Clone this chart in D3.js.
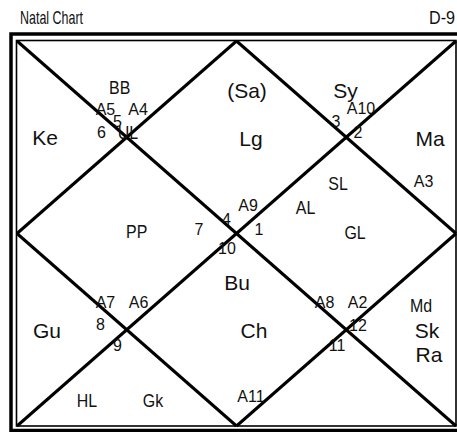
<!DOCTYPE html>
<html>
<head>
<meta charset="utf-8">
<script src="https://cdn.jsdelivr.net/npm/d3@7"></script>
<style>
  html, body { margin: 0; padding: 0; background: #fff; }
  svg { display: block; }
</style>
</head>
<body>
<div id="chart"></div>
<script>
// ---- DATA ----
const title = "Natal Chart";
const division = "D-9";
const planets = ["(Sa)", "Lg", "Sy", "Ma", "Ke", "Bu", "Ch", "Gu", "Sk", "Ra"];
const arudhas = ["A5", "A4", "A10", "A3", "A9", "A7", "A6", "A8", "A2", "A11"];
const signNumbers = ["1", "2", "3", "4", "5", "6", "7", "8", "9", "10", "11", "12"];
const specialPoints = ["BB", "UL", "SL", "AL", "PP", "GL", "HL", "Gk", "Md"];

// ---- LAYOUT (grid units: 0..4 across the chart square) ----
const planetPos = [[2.096,0.592],[2.132,1.091],[2.993,0.592],[3.763,1.091],[0.255,1.081],
                   [2.005,2.587],[2.159,3.086],[0.273,3.086],[3.736,3.086],[3.754,3.335]];
const arudhaPos = [[0.806,0.769],[1.103,0.769],[3.134,0.758],[3.704,1.517],[2.105,1.766],
                   [0.806,2.774],[1.107,2.774],[2.802,2.774],[3.103,2.774],[2.132,3.751]];
const signPos = [[2.205,2.016],[3.107,1.008],[2.907,0.894],[1.909,1.912],[0.916,0.894],[0.770,1.008],
                 [1.658,2.016],[0.761,3.003],[0.916,3.221],[1.913,2.213],[2.916,3.221],[3.107,3.013]];
const specialPos = [[0.936,0.554],[1.011,1.018],[2.925,1.548],[2.629,1.797],[1.091,2.047],
                    [3.080,2.057],[0.638,3.803],[1.239,3.803],[3.681,2.816]];

const W = 457, H = 432;
const mLeft = 17, mRight = 456, mTop = 41, mBottom = 426;

const svg = d3.select("#chart").append("svg")
  .attr("width", W).attr("height", H);

const x = d3.scaleLinear().domain([0, 4]).range([mLeft, mRight]);
const y = d3.scaleLinear().domain([0, 4]).range([mTop, mBottom]);

const regular = "'Liberation Sans', Arial, sans-serif";
const narrow = "'Liberation Sans Narrow', 'Arial Narrow', sans-serif";

// title
svg.append("text").attr("x", 20).attr("y", 24)
  .attr("font-family", narrow)
  .attr("font-size", 19).attr("textLength", 63).attr("lengthAdjust", "spacingAndGlyphs")
  .attr("fill", "#111")
  .text(title);
svg.append("text").attr("transform", "translate(455,24) scale(0.85,1)").attr("text-anchor", "end")
  .attr("font-family", narrow)
  .attr("font-size", 19).attr("fill", "#111")
  .text(division);

// outer thick frame
svg.append("rect").attr("x", 11).attr("y", 34).attr("width", 470).attr("height", 396.5)
  .attr("fill", "none").attr("stroke", "#000").attr("stroke-width", 3.5);
// inner thin frame
svg.append("rect").attr("x", x(0) - 0.5).attr("y", y(0) - 0.5)
  .attr("width", x(4) - x(0) + 0.5).attr("height", y(4) - y(0) + 0.5)
  .attr("fill", "none").attr("stroke", "#000").attr("stroke-width", 1.6);

// chart lines: two diagonals + diamond
const lines = [
  [[0,0],[4,4]], [[4,0],[0,4]],
  [[2,0],[4,2]], [[4,2],[2,4]], [[2,4],[0,2]], [[0,2],[2,0]]
];
svg.append("g").selectAll("line").data(lines).join("line")
  .attr("x1", d => x(d[0][0])).attr("y1", d => y(d[0][1]))
  .attr("x2", d => x(d[1][0])).attr("y2", d => y(d[1][1]))
  .attr("stroke", "#000").attr("stroke-width", 3).attr("stroke-linecap", "butt");

function drawLabels(labels, pos, size, family, sx) {
  svg.append("g").selectAll("text").data(labels).join("text")
    .attr("transform", (d, i) => `translate(${x(pos[i][0])},${y(pos[i][1])}) scale(${sx},1)`)
    .attr("text-anchor", "middle")
    .attr("font-family", family).attr("font-size", size)
    .attr("fill", "#111")
    .text(d => d);
}

drawLabels(planets, planetPos, 21, regular, 1);
drawLabels(arudhas, arudhaPos, 16, regular, 1);
drawLabels(signNumbers, signPos, 16, regular, 1);
drawLabels(specialPoints, specialPos, 19, narrow, 0.84);
</script>
</body>
</html>
